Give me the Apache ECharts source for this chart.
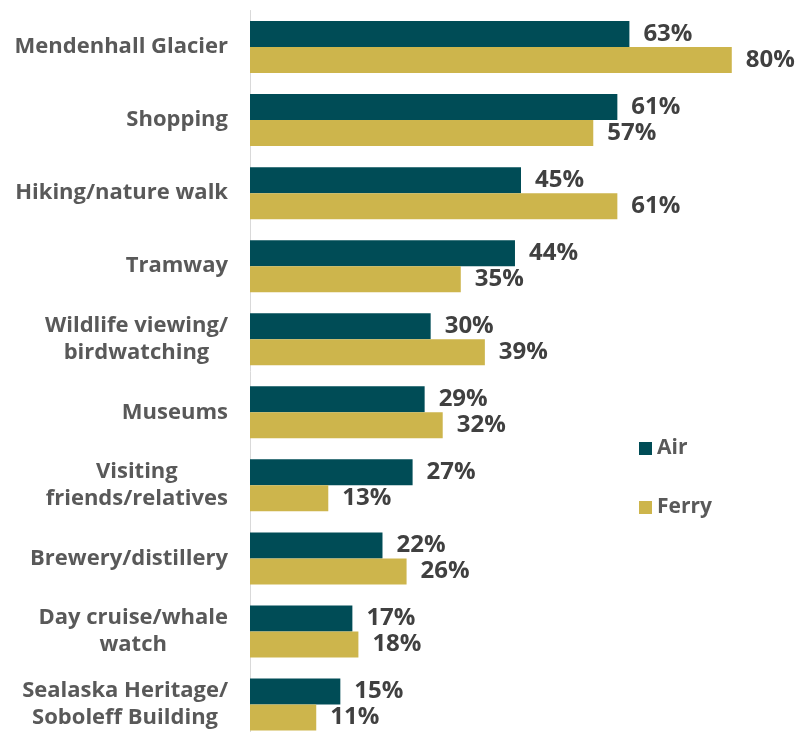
<!DOCTYPE html>
<html>
<head>
<meta charset="utf-8">
<script src="https://cdn.jsdelivr.net/npm/echarts@6/dist/echarts.min.js"></script>
<style>
  html, body { margin: 0; padding: 0; background: #ffffff; }
  #chart { width: 812px; height: 732px; }
</style>
</head>
<body>
<div id="chart"></div>
<script>
// Activities done in Juneau, by mode of arrival (share of visitors)
const categories = [
  'Mendenhall Glacier',
  'Shopping',
  'Hiking/nature walk',
  'Tramway',
  'Wildlife viewing/\nbirdwatching',
  'Museums',
  'Visiting\nfriends/relatives',
  'Brewery/distillery',
  'Day cruise/whale\nwatch',
  'Sealaska Heritage/\nSoboleff Building'
];
const airValues = [63, 61, 45, 44, 30, 29, 27, 22, 17, 15];
const ferryValues = [80, 57, 61, 35, 39, 32, 13, 26, 18, 11];

const FONT = '"Open Sans", "Noto Sans", sans-serif';
const AIR_COLOR = '#004c56';
const FERRY_COLOR = '#cdb54c';

const chart = echarts.init(document.getElementById('chart'), null, { renderer: 'canvas' });

const valueLabel = {
  show: true,
  position: 'right',
  distance: 14,
  formatter: p => p.value + '%',
  fontFamily: FONT,
  fontWeight: 'bold',
  fontSize: 24,
  color: '#404040'
};

chart.setOption({
  animation: false,
  backgroundColor: '#ffffff',
  // the last band runs past the bottom edge of the canvas
  grid: {
    left: 250, top: 10.5, width: 542, height: 730.5,
    containLabel: false, outerBoundsMode: 'none'
  },
  legend: {
    orient: 'vertical',
    left: 639,
    top: 438,
    padding: 0,
    itemWidth: 13,
    itemHeight: 13,
    itemGap: 38,
    icon: 'rect',
    textStyle: {
      fontFamily: FONT, fontWeight: 'bold', fontSize: 21, lineHeight: 20,
      color: '#595959', padding: [0, 0, 0, 0]
    },
    data: ['Air', 'Ferry']
  },
  xAxis: {
    type: 'value',
    min: 0,
    max: 90,
    show: false,
    splitLine: { show: false }
  },
  yAxis: {
    type: 'category',
    inverse: true,
    data: categories,
    axisLine: { show: true, lineStyle: { color: '#d9d9d9', width: 1 } },
    axisTick: { show: false },
    axisLabel: {
      margin: 22,
      formatter: v => v.split('\n').map(s => '{c|' + s + '}').join('\n'),
      rich: {
        c: {
          align: 'center',
          fontFamily: FONT,
          fontWeight: 'bold',
          fontSize: 22,
          lineHeight: 27,
          color: '#595959'
        }
      }
    }
  },
  series: [
    {
      name: 'Air',
      type: 'bar',
      data: airValues,
      barWidth: 26,
      barGap: '0%',
      itemStyle: { color: AIR_COLOR },
      label: valueLabel
    },
    {
      name: 'Ferry',
      type: 'bar',
      data: ferryValues,
      barWidth: 26,
      barGap: '0%',
      itemStyle: { color: FERRY_COLOR },
      label: valueLabel
    }
  ]
});
</script>
</body>
</html>
